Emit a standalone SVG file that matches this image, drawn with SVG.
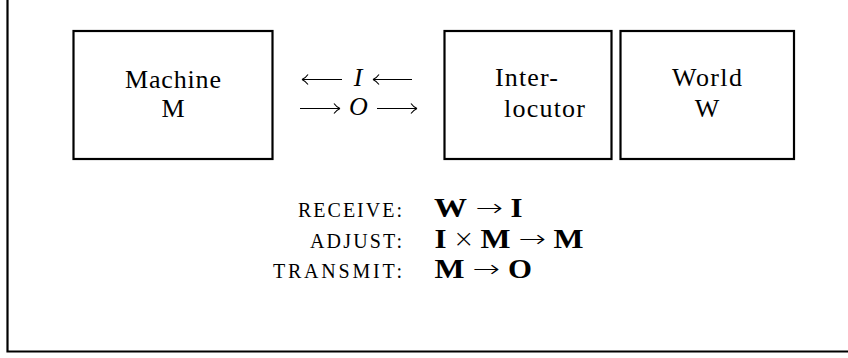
<svg xmlns="http://www.w3.org/2000/svg" width="848" height="358" viewBox="0 0 848 358">
<style>
.box{fill:#fff;stroke:#000;stroke-width:2.2}
.frame{fill:none;stroke:#000;stroke-width:2.2}
.t{font-family:"Liberation Serif","Times New Roman",serif;font-size:26px;fill:#000}
.it{font-style:italic}
.sc{font-family:"Liberation Serif","Times New Roman",serif;font-size:20px;fill:#000}
.b{font-family:"Liberation Serif","Times New Roman",serif;font-size:27px;font-weight:bold;fill:#000}
.op{font-family:"DejaVu Sans",sans-serif;font-weight:200;font-size:24px;fill:#000}
.arr{fill:none;stroke:#000;stroke-width:1.1}
</style>
<path class="frame" d="M7.5,0 V351.5 H848"/>
<g id="machine">
<rect class="box" x="73.5" y="31" width="199" height="128"/>
<text class="t" x="173" y="88" text-anchor="middle" textLength="96">Machine</text>
<text class="t" x="173" y="117" text-anchor="middle">M</text>
</g>
<g id="interlocutor">
<rect class="box" x="444.5" y="31" width="167" height="128"/>
<text class="t" x="495" y="86" textLength="63">Inter-</text>
<text class="t" x="504" y="117" textLength="81">locutor</text>
</g>
<g id="world">
<rect class="box" x="620.5" y="31" width="173.5" height="128"/>
<text class="t" x="707" y="86" text-anchor="middle" textLength="70">World</text>
<text class="t" x="707" y="117" text-anchor="middle">W</text>
</g>
<g id="connectors">
<path class="arr" d="M302,79.5 H342 M302,79.5 q4,-2 6,-5 M302,79.5 q4,2 6,5"/>
<path class="arr" d="M373,79.5 H412 M373,79.5 q4,-2 6,-5 M373,79.5 q4,2 6,5"/>
<path class="arr" d="M300,108.5 H340 M340,108.5 q-4,-2 -6,-5 M340,108.5 q-4,2 -6,5"/>
<path class="arr" d="M377,108.5 H417 M417,108.5 q-4,-2 -6,-5 M417,108.5 q-4,2 -6,5"/>
<text class="t it" x="358" y="86" text-anchor="middle">I</text>
<text class="t it" x="358.5" y="115" text-anchor="middle">O</text>
</g>
<g id="rules">
<text class="sc" x="402" y="216.5" text-anchor="end" textLength="104">RECEIVE:</text>
<text class="sc" x="402" y="247.5" text-anchor="end" textLength="92">ADJUST:</text>
<text class="sc" x="402" y="278" text-anchor="end" textLength="129">TRANSMIT:</text>
<text class="b" x="434" y="216.5" textLength="33" lengthAdjust="spacingAndGlyphs">W</text>
<text class="op" x="475.5" y="215.5" textLength="27.5" lengthAdjust="spacingAndGlyphs">→</text>
<text class="b" x="510.5" y="216.5" textLength="12" lengthAdjust="spacingAndGlyphs">I</text>
<text class="b" x="434.5" y="247.5" textLength="12" lengthAdjust="spacingAndGlyphs">I</text>
<text class="op" x="453" y="247" textLength="21.5" lengthAdjust="spacingAndGlyphs">×</text>
<text class="b" x="480.5" y="247.5" textLength="30" lengthAdjust="spacingAndGlyphs">M</text>
<text class="op" x="518.5" y="246.5" textLength="27.5" lengthAdjust="spacingAndGlyphs">→</text>
<text class="b" x="553.5" y="247.5" textLength="30" lengthAdjust="spacingAndGlyphs">M</text>
<text class="b" x="434.5" y="278" textLength="30" lengthAdjust="spacingAndGlyphs">M</text>
<text class="op" x="472.5" y="277" textLength="27.5" lengthAdjust="spacingAndGlyphs">→</text>
<text class="b" x="508" y="278" textLength="24" lengthAdjust="spacingAndGlyphs">O</text>
</g>
</svg>
